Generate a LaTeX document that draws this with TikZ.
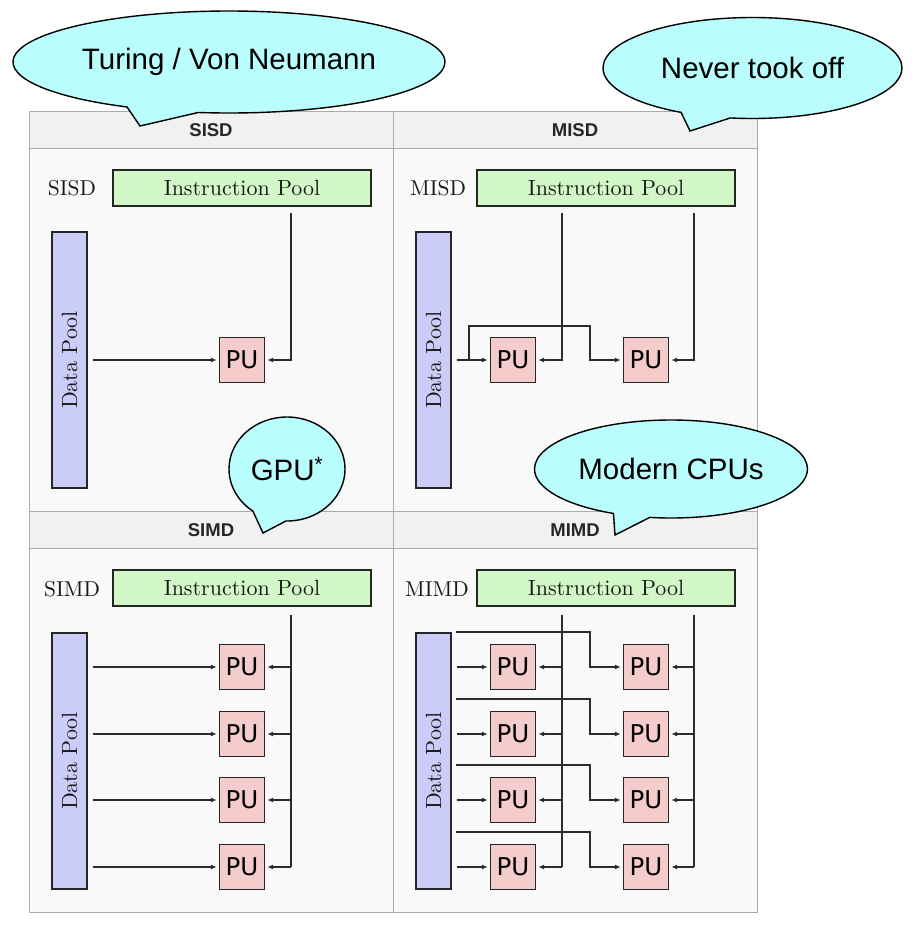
\documentclass[tikz,border=0pt]{standalone}
\usepackage{fontspec}
\newfontfamily\bubblefamily{Liberation Sans}
\newfontfamily\pufamily{DejaVu Sans}
\newfontfamily\poolfamily{lmroman10-regular.otf}
\usetikzlibrary{arrows.meta,shapes.callouts}

\definecolor{panelbg}{HTML}{F9F9F9}
\definecolor{headbg}{HTML}{F1F1F1}
\definecolor{gridline}{HTML}{ABABAB}
\definecolor{wire}{HTML}{2B2B2B}
\definecolor{instgreen}{HTML}{D2F8C8}
\definecolor{datablue}{HTML}{CCCCF8}
\definecolor{pupink}{HTML}{F4CCCC}
\definecolor{bubblecyan}{HTML}{B9FDFD}

\begin{document}
\begin{tikzpicture}[
    x=1pt,y=-1pt,
    grid/.style={draw=gridline,line width=1pt},
    head/.style={font=\bubblefamily\bfseries\fontsize{18.5}{22}\selectfont,text=black!85},
    tag/.style={font=\poolfamily\fontsize{21.5}{26}\selectfont,text=black!90},
    pool/.style={draw=black!85,line width=1.4pt,inner sep=0pt,text=black!90,
        font=\poolfamily\fontsize{22}{26}\selectfont},
    instpool/.style={pool,fill=instgreen,minimum width=258pt,minimum height=36pt},
    datapool/.style={pool,fill=datablue,rotate=90,minimum width=256pt,minimum height=35pt},
    pu/.style={draw=black!85,line width=1.4pt,fill=pupink,inner sep=0pt,
        minimum size=45pt,font=\pufamily\fontsize{24.5}{28}\selectfont},
    wire/.style={draw=wire,line width=1.3pt},
    flow/.style={wire,-{Latex[length=6pt,width=5pt]},shorten >=2pt},
    data/.style={flow,shorten <=5pt},
    bubble/.style={ellipse callout,draw=black,line width=1.4pt,fill=bubblecyan,
        inner sep=0pt,callout pointer arc=20,
        font=\bubblefamily\fontsize{29.5}{34}\selectfont}
]
\path[use as bounding box,fill=white] (0,0) rectangle (912,932);

% the 2x2 table of Flynn's classes
\fill[panelbg] (29,111) rectangle (757,912);
\fill[headbg] (29,111) rectangle (757,148);
\fill[headbg] (29,511) rectangle (757,548);
\draw[grid] (29,111) rectangle (757,912);
\draw[grid] (29,148) -- (757,148) (29,511) -- (757,511) (29,548) -- (757,548);
\draw[grid] (393,111) -- (393,912);

\node[head] (h-sisd) at (211,130) {SISD};
\node[head] (h-misd) at (575,130) {MISD};
\node[head] (h-simd) at (211,530) {SIMD};
\node[head] (h-mimd) at (575,530) {MIMD};

% SISD
\node[tag] (sisd-tag) at (72,188) {SISD};
\node[instpool] (sisd-ip) at (242,188) {Instruction Pool};
\node[datapool] (sisd-dp) at (69.5,360) {Data Pool};
\node[pu] (sisd-pu) at (242,360) {PU};
\coordinate (sisd-bus) at (291,213);
% rotated pools: their south side faces the PUs
\draw[data] (sisd-dp.south |- sisd-pu.west) -- (sisd-pu.west);
\draw[flow] (sisd-bus) |- (sisd-pu.east);

% MISD
\node[tag] (misd-tag) at (438,188) {MISD};
\node[instpool] (misd-ip) at (606,188) {Instruction Pool};
\node[datapool] (misd-dp) at (433.5,360) {Data Pool};
\node[pu] (misd-pua) at (513,360) {PU};
\node[pu] (misd-pub) at (646,360) {PU};
\coordinate (misd-bus1) at (562,213);
\coordinate (misd-bus2) at (694,213);
\coordinate (misd-fork) at (469,360);
\coordinate (misd-hop) at (590,326);
\draw[data] (misd-dp.south |- misd-pua.west) -- (misd-pua.west);
\draw[flow] (misd-fork) |- (misd-hop) |- (misd-pub.west);
\draw[flow] (misd-bus1) |- (misd-pua.east);
\draw[flow] (misd-bus2) |- (misd-pub.east);

% SIMD
\node[tag] (simd-tag) at (72,589) {SIMD};
\node[instpool] (simd-ip) at (242,588) {Instruction Pool};
\node[datapool] (simd-dp) at (69.5,761) {Data Pool};
\coordinate (simd-bus) at (291,615);
\foreach \i/\y in {1/667,2/734,3/800,4/867} {
    \node[pu] (simd-pu\i) at (242,\y) {PU};
    \draw[data] (simd-dp.south |- simd-pu\i.west) -- (simd-pu\i.west);
    \draw[flow] (simd-bus |- simd-pu\i.east) -- (simd-pu\i.east);
}
\draw[wire] (simd-bus) -- (simd-bus |- simd-pu4.east);

% MIMD
\node[tag] (mimd-tag) at (437,589) {MIMD};
\node[instpool] (mimd-ip) at (606,588) {Instruction Pool};
\node[datapool] (mimd-dp) at (433.5,761) {Data Pool};
\coordinate (mimd-bus1) at (562,615);
\coordinate (mimd-bus2) at (694,615);
\foreach \i/\y in {1/667,2/734,3/800,4/867} {
    \node[pu] (mimd-pua\i) at (513,\y) {PU};
    \node[pu] (mimd-pub\i) at (646,\y) {PU};
    \coordinate (mimd-tap\i) at (456,\y-35);
    \coordinate (mimd-hop\i) at (590,\y);
    \draw[data] (mimd-dp.south |- mimd-pua\i.west) -- (mimd-pua\i.west);
    \draw[flow] (mimd-tap\i) -| (mimd-hop\i) -- (mimd-pub\i.west);
    \draw[flow] (mimd-bus1 |- mimd-pua\i.east) -- (mimd-pua\i.east);
    \draw[flow] (mimd-bus2 |- mimd-pub\i.east) -- (mimd-pub\i.east);
}
\draw[wire] (mimd-bus1) -- (mimd-bus1 |- mimd-pua4.east);
\draw[wire] (mimd-bus2) -- (mimd-bus2 |- mimd-pub4.east);

% speech bubbles on top of the table
\node[bubble,minimum width=432pt,minimum height=102pt,
    callout absolute pointer={(140,126)}] (turing) at (229,62) {Turing / Von Neumann};
\node[bubble,minimum width=299pt,minimum height=101pt,
    callout absolute pointer={(690,131)}] (never) at (752.5,68) {Never took off};
\node[bubble,minimum width=116pt,minimum height=104pt,callout pointer arc=35,
    callout absolute pointer={(263,533)}] (gpu) at (287,469) {GPU\textsuperscript{*}};
\node[bubble,minimum width=273pt,minimum height=98pt,callout pointer arc=16,
    callout absolute pointer={(615,535)}] (modern) at (671,469) {Modern CPUs};
\end{tikzpicture}
\end{document}
